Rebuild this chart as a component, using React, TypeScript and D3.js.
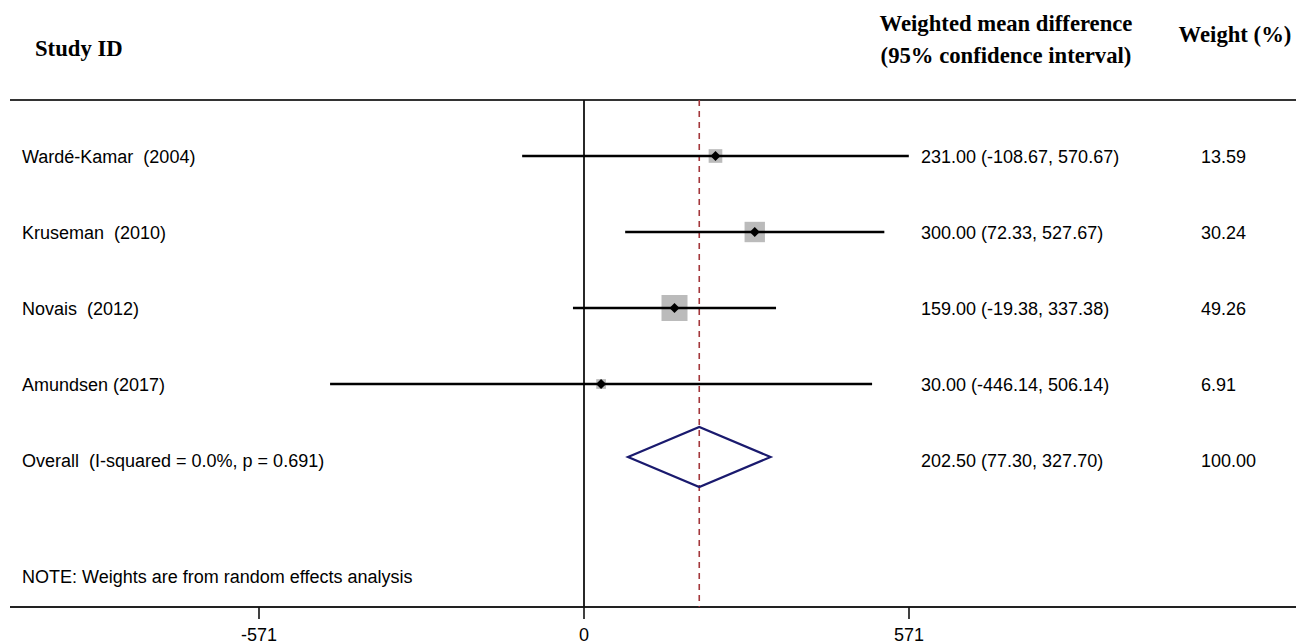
import React from 'react';
import * as d3 from 'd3';

const studies = ['Wardé-Kamar  (2004)', 'Kruseman  (2010)', 'Novais  (2012)', 'Amundsen (2017)'];
const estimates = [231.0, 300.0, 159.0, 30.0];
const lower = [-108.67, 72.33, -19.38, -446.14];
const upper = [570.67, 527.67, 337.38, 506.14];
const weights = [13.59, 30.24, 49.26, 6.91];

const overallLabel = 'Overall  (I-squared = 0.0%, p = 0.691)';
const overall = { est: 202.5, lo: 77.3, hi: 327.7, weight: 100.0 };
const xTicks = [-571, 0, 571];

const W = 1296;
const H = 644;

// plain hyphen instead of d3's unicode minus
const fmt = (v: number) => d3.format('.2f')(v).replace('\u2212', '-');

export default function App() {
  const x = d3.scaleLinear().domain([-571, 571]).range([259, 909]);
  const y = d3.scaleLinear().domain([0, 4]).range([156, 460]);
  const size = d3.scaleSqrt().domain([0, 49.26]).range([0, 26]);

  const top = 100;
  const bottom = 607;
  const sans = 'Liberation Sans, Arial, sans-serif';
  const serif = 'Liberation Serif, Times New Roman, serif';
  const fs = 18;
  const pre = { whiteSpace: 'pre' as const };

  const dc = y(4) - 3;
  const diamond = [
    [x(overall.lo), dc],
    [x(overall.est), dc - 30],
    [x(overall.hi), dc],
    [x(overall.est), dc + 30],
  ];

  return (
    <svg width={W} height={H} style={{ position: 'absolute', left: 0, top: 0 }}>
      <rect width={W} height={H} fill="#fff" />
      {/* header */}
      <g fontFamily={serif} fontWeight="bold" fontSize={22.7} fill="#000">
        <text x={35} y={56}>Study ID</text>
        <text x={1006} y={31} textAnchor="middle">Weighted mean difference</text>
        <text x={1006} y={63} textAnchor="middle">(95% confidence interval)</text>
        <text x={1235} y={42} textAnchor="middle">Weight (%)</text>
      </g>

      <line x1={10} x2={W} y1={top} y2={top} stroke="#333" strokeWidth={2} />
      <line x1={10} x2={W} y1={bottom} y2={bottom} stroke="#222" strokeWidth={2} />
      <line x1={x(0)} x2={x(0)} y1={top} y2={bottom} stroke="#111" strokeWidth={1.8} />
      <line
        x1={x(overall.est)}
        x2={x(overall.est)}
        y1={top}
        y2={bottom}
        stroke="#a4373c"
        strokeWidth={1.6}
        strokeDasharray="6,5"
      />

      {/* studies */}
      {studies.map((s, i) => {
        const cx = x(estimates[i]);
        const cy = y(i);
        const sz = size(weights[i]);
        return (
          <g key={s}>
            <rect x={cx - sz / 2} y={cy - sz / 2} width={sz} height={sz} fill="#bbbbbb" />
            <line x1={x(lower[i])} x2={x(upper[i])} y1={cy} y2={cy} stroke="#000" strokeWidth={2.5} />
            <path
              d={`M${cx - 5},${cy}L${cx},${cy - 5}L${cx + 5},${cy}L${cx},${cy + 5}Z`}
              fill="#000"
            />
            <text x={22} y={cy + 7} fontFamily={sans} fontSize={fs} style={pre}>{s}</text>
            <text x={921} y={cy + 7} fontFamily={sans} fontSize={fs}>
              {`${fmt(estimates[i])} (${fmt(lower[i])}, ${fmt(upper[i])})`}
            </text>
            <text x={1201} y={cy + 7} fontFamily={sans} fontSize={fs}>{fmt(weights[i])}</text>
          </g>
        );
      })}

      {/* overall */}
      <path d={'M' + diamond.map(p => p.join(',')).join('L') + 'Z'} fill="none" stroke="#1a1a6e" strokeWidth={2.2} />
      <text x={22} y={y(4) + 7} fontFamily={sans} fontSize={fs} style={pre}>{overallLabel}</text>
      <text x={921} y={y(4) + 7} fontFamily={sans} fontSize={fs}>
        {`${fmt(overall.est)} (${fmt(overall.lo)}, ${fmt(overall.hi)})`}
      </text>
      <text x={1201} y={y(4) + 7} fontFamily={sans} fontSize={fs}>{fmt(overall.weight)}</text>

      <text x={22} y={583} fontFamily={sans} fontSize={fs}>NOTE: Weights are from random effects analysis</text>

      {/* axis */}
      {xTicks.map(t => (
        <g key={t}>
          <line x1={x(t)} x2={x(t)} y1={bottom} y2={bottom + 12} stroke="#111" strokeWidth={1.6} />
          <text x={x(t)} y={641} textAnchor="middle" fontFamily={sans} fontSize={fs}>{t}</text>
        </g>
      ))}
    </svg>
  );
}
